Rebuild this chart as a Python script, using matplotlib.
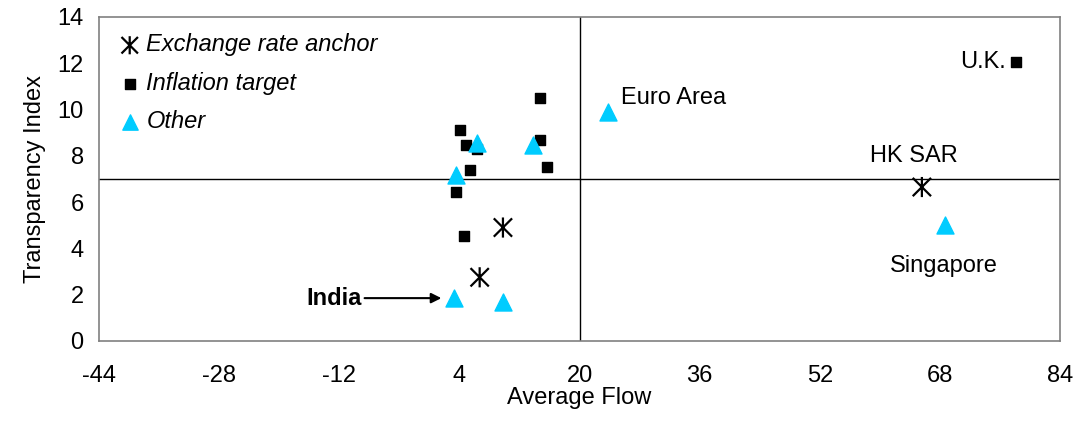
import matplotlib
matplotlib.use("Agg")
import matplotlib.pyplot as plt
from matplotlib.path import Path

plt.rcParams['font.family'] = ['Liberation Sans', 'DejaVu Sans']
plt.rcParams['axes.unicode_minus'] = False

# exchange rate anchor (asterisk)
anchor_x = [9.8, 6.7, 65.6]
anchor_y = [4.9, 2.75, 6.65]

# inflation target (square)
target_x = [14.7, 4.1, 4.9, 6.3, 14.7, 5.4, 15.7, 3.6, 4.6, 78.2]
target_y = [10.5, 9.1, 8.45, 8.3, 8.7, 7.4, 7.5, 6.45, 4.55, 12.05]

# other (triangle)
other_x = [6.4, 13.8, 3.5, 3.25, 9.8, 23.8, 68.7]
other_y = [8.55, 8.45, 7.15, 1.85, 1.7, 9.9, 5.0]

x_ticks = [-44, -28, -12, 4, 20, 36, 52, 68, 84]
y_ticks = [0, 2, 4, 6, 8, 10, 12, 14]

# X with a vertical bar, like the Excel asterisk marker
star = Path([(-1, -1), (1, 1), (-1, 1), (1, -1), (0, -1.1), (0, 1.1)],
            [Path.MOVETO, Path.LINETO, Path.MOVETO, Path.LINETO, Path.MOVETO, Path.LINETO])

fig = plt.figure(figsize=(10.81, 4.23), dpi=100)
ax = fig.add_axes([0.0916, 0.194, 0.889, 0.766])

ax.axvline(20, color='black', lw=1, zorder=1)
ax.axhline(7, color='black', lw=1, zorder=1)

ax.scatter(target_x, target_y, marker='s', s=55, color='black', zorder=3, label='Inflation target')
ax.scatter(other_x, other_y, marker='^', s=150, color='#00CCFF', zorder=4, label='Other')
ax.scatter(anchor_x, anchor_y, marker=star, s=210, facecolor='none', edgecolor='black',
           linewidths=1.6, zorder=5, label='Exchange rate anchor')

ax.set_xlim(-44, 84)
ax.set_ylim(0, 14)
ax.set_xticks(x_ticks)
ax.set_yticks(y_ticks)
ax.tick_params(length=0, labelsize=17)
ax.tick_params(axis='x', pad=17)
ax.tick_params(axis='y', pad=11)
for s in ax.spines.values():
    s.set_color('#808080')
    s.set_linewidth(1.2)

ax.set_xlabel('Average Flow', fontsize=17, labelpad=0)
ax.set_ylabel('Transparency Index', fontsize=17, labelpad=8)

ax.text(25.5, 10.5, 'Euro Area', fontsize=17, va='center')
ax.text(76.8, 12.05, 'U.K.', fontsize=17, ha='right', va='center')
ax.text(64.5, 7.5, 'HK SAR', fontsize=17, ha='center', va='bottom')
ax.text(68.5, 3.25, 'Singapore', fontsize=17, ha='center', va='center')

ax.annotate('India', xy=(1.6, 1.85), xytext=(-9.0, 1.85), fontsize=17, fontweight='bold',
            ha='right', va='center',
            arrowprops=dict(arrowstyle='-|>', color='black', lw=1.5, mutation_scale=15,
                            shrinkA=0, shrinkB=0))

handles, labels = ax.get_legend_handles_labels()
order = [2, 0, 1]
leg = ax.legend([handles[i] for i in order], [labels[i] for i in order], loc='upper left',
                frameon=False, prop={'style': 'italic', 'size': 17}, handletextpad=0.1,
                labelspacing=0.65, borderaxespad=0.3, handlelength=1.2, markerscale=0.9)

fig.savefig('out.png', dpi=100)
